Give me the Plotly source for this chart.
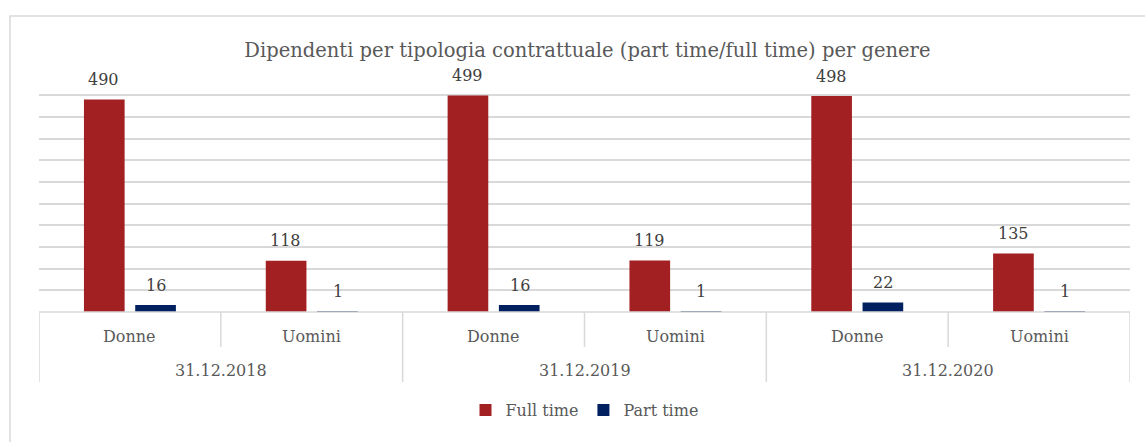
import plotly.graph_objects as go

dates = ["31.12.2018", "31.12.2019", "31.12.2020"]
genders = ["Donne", "Uomini"]
full_time = [490, 118, 499, 119, 498, 135]
part_time = [16, 1, 16, 1, 22, 1]
series_names = ["Full time", "Part time"]

categories = [f"{d} {g}" for d in dates for g in genders]
gender_labels = [g for d in dates for g in genders]

RED = "#A21F22"
NAVY = "#002060"
GRID = "#d9d9d9"
FONT = "'DejaVu Serif', Georgia, serif"
TXT = "#595959"

W, H = 1145, 442
L, R, T, B = 39, 15, 93, 130
plot_h = H - T - B

def py(pix):
    return (H - B - pix) / plot_h

fig = go.Figure()
fig.add_trace(go.Bar(x=categories, y=full_time, name=series_names[0],
                     marker=dict(color=RED, line=dict(width=0))))
fig.add_trace(go.Bar(x=categories, y=part_time, name=series_names[1],
                     marker=dict(color=NAVY, line=dict(width=0))))

annotations = []
for vals, xs in ((full_time, -26), (part_time, 26)):
    for c, v in zip(categories, vals):
        annotations.append(dict(x=c, y=v, xref="x", yref="y", text=str(v),
                                showarrow=False, xshift=xs, yshift=20,
                                yanchor="middle",
                                font=dict(family=FONT, size=16, color="#404040")))
for c, g in zip(categories, gender_labels):
    annotations.append(dict(x=c, y=py(336), xref="x", yref="paper", text=g,
                            showarrow=False, yanchor="middle",
                            font=dict(family=FONT, size=16, color=TXT)))
for i, d in enumerate(dates):
    annotations.append(dict(x=i * len(genders) + (len(genders) - 1) / 2, y=py(370),
                            xref="x", yref="paper", text=d, showarrow=False,
                            yanchor="middle",
                            font=dict(family=FONT, size=16, color=TXT)))

shapes = []
n = len(categories)
for k in range(n + 1):
    x = k - 0.5
    bottom = py(382) if k % len(genders) == 0 else py(347)
    shapes.append(dict(type="line", xref="x", yref="paper", x0=x, x1=x,
                       y0=0, y1=bottom, line=dict(color=GRID, width=1.5)))
shapes.append(dict(type="line", xref="x", yref="paper", x0=-0.5, x1=n - 0.5,
                   y0=0, y1=0, line=dict(color=GRID, width=1.5)))
# chart border
bx0 = (10 - L) / (W - L - R)
by1 = py(16)
shapes.append(dict(type="rect", xref="paper", yref="paper",
                   x0=bx0, x1=(W + 5 - L) / (W - L - R), y0=py(H + 5), y1=by1,
                   line=dict(color=GRID, width=1.5), fillcolor="rgba(0,0,0,0)"))

fig.update_layout(
    width=W, height=H,
    margin=dict(l=L, r=R, t=T, b=B),
    paper_bgcolor="white", plot_bgcolor="white",
    barmode="group", bargap=0.436, bargroupgap=0.207,
    title=dict(text="Dipendenti per tipologia contrattuale (part time/full time) per genere",
               x=0.513, xanchor="center", y=1 - 50 / H, yanchor="middle",
               font=dict(family=FONT, size=19.5, color=TXT)),
    xaxis=dict(type="category", showticklabels=False, showgrid=False,
               zeroline=False, showline=False, range=[-0.5, n - 0.5]),
    yaxis=dict(range=[0, 505], dtick=50, showticklabels=False, showgrid=True,
               gridcolor=GRID, gridwidth=1.5, zeroline=False, showline=False),
    legend=dict(orientation="h", x=0.5, xanchor="center", y=py(410),
                yanchor="middle", font=dict(family=FONT, size=16, color=TXT),
                itemwidth=30),
    annotations=annotations, shapes=shapes,
)

fig.write_html("out.html", config={"displayModeBar": False},
               post_script="document.body.style.margin='0';")
